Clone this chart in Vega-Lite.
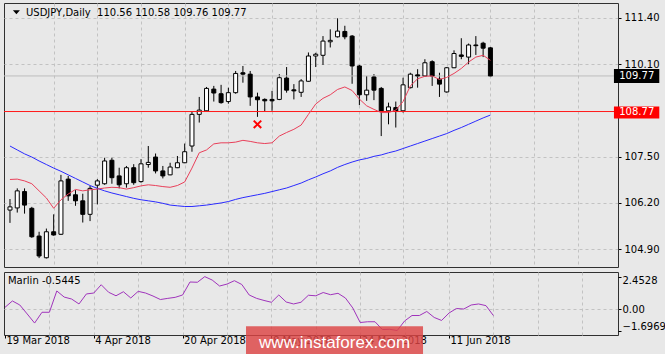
{
  "$schema": "https://vega.github.io/schema/vega-lite/v6.json",
  "background": "#e8e8e8",
  "padding": {"left": 2, "top": 2, "right": 0, "bottom": 0},
  "config": {
    "view": {"stroke": "#303030", "strokeWidth": 1},
    "font": "DejaVu Sans",
    "axis": {"labelFont": "DejaVu Sans", "labelFontSize": 10, "labelColor": "#000000", "tickColor": "#000000", "gridColor": "#c2c2c2", "gridDash": [3, 3], "gridWidth": 1, "domain": false}
  },
  "datasets": {
    "bars": [
      {"i": 0, "d": "2018-03-19", "o": 106.00, "h": 106.31, "l": 105.64, "c": 106.09, "r": 106.86, "b": 107.80, "m": 0.09},
      {"i": 1, "d": "2018-03-20", "o": 106.06, "h": 106.61, "l": 105.93, "c": 106.54, "r": 106.87, "b": 107.69, "m": 0.58},
      {"i": 2, "d": "2018-03-21", "o": 106.52, "h": 106.61, "l": 105.90, "c": 106.14, "r": 106.82, "b": 107.58, "m": 0.27},
      {"i": 3, "d": "2018-03-22", "o": 106.05, "h": 106.09, "l": 105.22, "c": 105.25, "r": 106.74, "b": 107.49, "m": -0.42},
      {"i": 4, "d": "2018-03-23", "o": 105.27, "h": 105.39, "l": 104.65, "c": 104.71, "r": 106.54, "b": 107.38, "m": -1.12},
      {"i": 5, "d": "2018-03-26", "o": 104.66, "h": 105.48, "l": 104.64, "c": 105.39, "r": 106.34, "b": 107.28, "m": -0.29},
      {"i": 6, "d": "2018-03-27", "o": 105.39, "h": 105.88, "l": 105.28, "c": 105.30, "r": 106.05, "b": 107.18, "m": -0.29},
      {"i": 7, "d": "2018-03-28", "o": 105.32, "h": 106.99, "l": 105.30, "c": 106.82, "r": 106.29, "b": 107.09, "m": 1.35},
      {"i": 8, "d": "2018-03-29", "o": 106.87, "h": 106.96, "l": 106.26, "c": 106.40, "r": 106.45, "b": 106.99, "m": 0.88},
      {"i": 9, "d": "2018-03-30", "o": 106.43, "h": 106.56, "l": 106.12, "c": 106.26, "r": 106.58, "b": 106.89, "m": 0.73},
      {"i": 10, "d": "2018-04-02", "o": 106.26, "h": 106.46, "l": 105.65, "c": 105.88, "r": 106.54, "b": 106.79, "m": 0.35},
      {"i": 11, "d": "2018-04-03", "o": 105.88, "h": 106.68, "l": 105.69, "c": 106.61, "r": 106.57, "b": 106.69, "m": 1.12},
      {"i": 12, "d": "2018-04-04", "o": 106.70, "h": 106.87, "l": 106.16, "c": 106.82, "r": 106.59, "b": 106.61, "m": 1.19},
      {"i": 13, "d": "2018-04-05", "o": 106.74, "h": 107.47, "l": 106.71, "c": 107.38, "r": 106.62, "b": 106.54, "m": 1.83},
      {"i": 14, "d": "2018-04-06", "o": 107.40, "h": 107.47, "l": 106.74, "c": 106.91, "r": 106.64, "b": 106.48, "m": 1.25},
      {"i": 15, "d": "2018-04-09", "o": 106.96, "h": 107.19, "l": 106.61, "c": 106.71, "r": 106.63, "b": 106.43, "m": 0.98},
      {"i": 16, "d": "2018-04-10", "o": 106.74, "h": 107.24, "l": 106.63, "c": 107.19, "r": 106.59, "b": 106.38, "m": 1.29},
      {"i": 17, "d": "2018-04-11", "o": 107.19, "h": 107.29, "l": 106.71, "c": 106.77, "r": 106.63, "b": 106.33, "m": 0.81},
      {"i": 18, "d": "2018-04-12", "o": 106.80, "h": 107.43, "l": 106.77, "c": 107.30, "r": 106.68, "b": 106.29, "m": 1.32},
      {"i": 19, "d": "2018-04-13", "o": 107.28, "h": 107.80, "l": 107.19, "c": 107.34, "r": 106.71, "b": 106.26, "m": 1.19},
      {"i": 20, "d": "2018-04-16", "o": 107.49, "h": 107.59, "l": 107.03, "c": 107.10, "r": 106.69, "b": 106.23, "m": 0.96},
      {"i": 21, "d": "2018-04-17", "o": 107.10, "h": 107.24, "l": 106.89, "c": 106.96, "r": 106.66, "b": 106.19, "m": 0.69},
      {"i": 22, "d": "2018-04-18", "o": 106.99, "h": 107.33, "l": 106.98, "c": 107.21, "r": 106.64, "b": 106.14, "m": 0.78},
      {"i": 23, "d": "2018-04-19", "o": 107.19, "h": 107.52, "l": 107.18, "c": 107.33, "r": 106.69, "b": 106.12, "m": 0.86},
      {"i": 24, "d": "2018-04-20", "o": 107.33, "h": 107.87, "l": 107.32, "c": 107.64, "r": 106.79, "b": 106.10, "m": 1.04},
      {"i": 25, "d": "2018-04-23", "o": 107.80, "h": 108.77, "l": 107.64, "c": 108.69, "r": 107.18, "b": 106.10, "m": 2.04},
      {"i": 26, "d": "2018-04-24", "o": 108.69, "h": 109.18, "l": 108.46, "c": 108.81, "r": 107.61, "b": 106.12, "m": 2.02},
      {"i": 27, "d": "2018-04-25", "o": 108.79, "h": 109.46, "l": 108.77, "c": 109.42, "r": 107.69, "b": 106.14, "m": 2.4528},
      {"i": 28, "d": "2018-04-26", "o": 109.40, "h": 109.49, "l": 109.05, "c": 109.29, "r": 107.86, "b": 106.17, "m": 2.19},
      {"i": 29, "d": "2018-04-27", "o": 109.27, "h": 109.52, "l": 108.99, "c": 109.02, "r": 107.89, "b": 106.20, "m": 1.73},
      {"i": 30, "d": "2018-04-30", "o": 109.05, "h": 109.44, "l": 108.99, "c": 109.30, "r": 107.89, "b": 106.24, "m": 1.88},
      {"i": 31, "d": "2018-05-01", "o": 109.30, "h": 109.91, "l": 109.27, "c": 109.84, "r": 107.91, "b": 106.30, "m": 2.14},
      {"i": 32, "d": "2018-05-02", "o": 109.86, "h": 110.05, "l": 109.58, "c": 109.82, "r": 107.96, "b": 106.35, "m": 1.85},
      {"i": 33, "d": "2018-05-03", "o": 109.82, "h": 109.91, "l": 108.93, "c": 109.18, "r": 107.93, "b": 106.39, "m": 1.04},
      {"i": 34, "d": "2018-05-04", "o": 109.18, "h": 109.30, "l": 108.62, "c": 109.10, "r": 107.89, "b": 106.43, "m": 0.78},
      {"i": 35, "d": "2018-05-07", "o": 109.11, "h": 109.14, "l": 108.77, "c": 109.07, "r": 107.87, "b": 106.47, "m": 0.62},
      {"i": 36, "d": "2018-05-08", "o": 109.11, "h": 109.35, "l": 108.79, "c": 109.07, "r": 107.89, "b": 106.52, "m": 0.48},
      {"i": 37, "d": "2018-05-09", "o": 109.11, "h": 109.82, "l": 109.09, "c": 109.72, "r": 108.08, "b": 106.57, "m": 1.04},
      {"i": 38, "d": "2018-05-10", "o": 109.71, "h": 110.02, "l": 109.30, "c": 109.37, "r": 108.18, "b": 106.62, "m": 0.50},
      {"i": 39, "d": "2018-05-11", "o": 109.38, "h": 109.54, "l": 109.11, "c": 109.35, "r": 108.27, "b": 106.69, "m": 0.35},
      {"i": 40, "d": "2018-05-14", "o": 109.31, "h": 109.68, "l": 109.18, "c": 109.63, "r": 108.39, "b": 106.76, "m": 0.48},
      {"i": 41, "d": "2018-05-15", "o": 109.62, "h": 110.43, "l": 109.61, "c": 110.33, "r": 108.69, "b": 106.85, "m": 1.02},
      {"i": 42, "d": "2018-05-16", "o": 110.33, "h": 110.42, "l": 110.02, "c": 110.38, "r": 108.98, "b": 106.93, "m": 0.98},
      {"i": 43, "d": "2018-05-17", "o": 110.35, "h": 110.89, "l": 110.08, "c": 110.75, "r": 109.14, "b": 107.02, "m": 1.23},
      {"i": 44, "d": "2018-05-18", "o": 110.73, "h": 111.08, "l": 110.57, "c": 110.77, "r": 109.24, "b": 107.10, "m": 1.06},
      {"i": 45, "d": "2018-05-21", "o": 110.87, "h": 111.39, "l": 110.85, "c": 111.03, "r": 109.39, "b": 107.20, "m": 1.17},
      {"i": 46, "d": "2018-05-22", "o": 111.02, "h": 111.18, "l": 110.80, "c": 110.87, "r": 109.46, "b": 107.28, "m": 0.81},
      {"i": 47, "d": "2018-05-23", "o": 110.89, "h": 110.92, "l": 109.55, "c": 110.05, "r": 109.36, "b": 107.35, "m": 0.04},
      {"i": 48, "d": "2018-05-24", "o": 110.05, "h": 110.08, "l": 108.95, "c": 109.24, "r": 109.12, "b": 107.41, "m": -1.08},
      {"i": 49, "d": "2018-05-25", "o": 109.24, "h": 109.77, "l": 109.07, "c": 109.37, "r": 108.93, "b": 107.45, "m": -1.02},
      {"i": 50, "d": "2018-05-28", "o": 109.74, "h": 109.82, "l": 109.09, "c": 109.37, "r": 108.83, "b": 107.51, "m": -1.02},
      {"i": 51, "d": "2018-05-29", "o": 109.42, "h": 109.46, "l": 108.08, "c": 108.77, "r": 108.74, "b": 107.55, "m": -1.62},
      {"i": 52, "d": "2018-05-30", "o": 108.79, "h": 109.02, "l": 108.41, "c": 108.90, "r": 108.74, "b": 107.61, "m": -1.60},
      {"i": 53, "d": "2018-05-31", "o": 108.88, "h": 109.05, "l": 108.32, "c": 108.77, "r": 108.81, "b": 107.66, "m": -1.6969},
      {"i": 54, "d": "2018-06-01", "o": 108.79, "h": 109.72, "l": 108.74, "c": 109.52, "r": 109.05, "b": 107.73, "m": -0.96},
      {"i": 55, "d": "2018-06-04", "o": 109.44, "h": 109.86, "l": 109.42, "c": 109.82, "r": 109.49, "b": 107.80, "m": -0.54},
      {"i": 56, "d": "2018-06-05", "o": 109.80, "h": 109.96, "l": 109.44, "c": 109.77, "r": 109.69, "b": 107.87, "m": -0.54},
      {"i": 57, "d": "2018-06-06", "o": 109.77, "h": 110.24, "l": 109.74, "c": 110.14, "r": 109.76, "b": 107.94, "m": -0.23},
      {"i": 58, "d": "2018-06-07", "o": 110.17, "h": 110.21, "l": 109.49, "c": 109.77, "r": 109.77, "b": 108.01, "m": -0.69},
      {"i": 59, "d": "2018-06-08", "o": 109.68, "h": 109.86, "l": 109.18, "c": 109.54, "r": 109.67, "b": 108.08, "m": -0.92},
      {"i": 60, "d": "2018-06-11", "o": 109.32, "h": 110.02, "l": 109.30, "c": 110.00, "r": 109.73, "b": 108.15, "m": -0.35},
      {"i": 61, "d": "2018-06-12", "o": 110.00, "h": 110.49, "l": 109.99, "c": 110.40, "r": 109.84, "b": 108.24, "m": 0.00},
      {"i": 62, "d": "2018-06-13", "o": 110.36, "h": 110.83, "l": 110.24, "c": 110.32, "r": 109.98, "b": 108.32, "m": -0.04},
      {"i": 63, "d": "2018-06-14", "o": 110.30, "h": 110.68, "l": 110.10, "c": 110.64, "r": 110.16, "b": 108.41, "m": 0.27},
      {"i": 64, "d": "2018-06-15", "o": 110.64, "h": 110.89, "l": 110.36, "c": 110.62, "r": 110.30, "b": 108.50, "m": 0.35},
      {"i": 65, "d": "2018-06-18", "o": 110.69, "h": 110.73, "l": 110.30, "c": 110.55, "r": 110.35, "b": 108.59, "m": 0.22},
      {"i": 66, "d": "2018-06-19", "o": 110.56, "h": 110.58, "l": 109.76, "c": 109.77, "r": 110.21, "b": 108.67, "m": -0.5445}
    ]
  },
  "spacing": 3,
  "resolve": {"scale": {"x": "independent", "y": "independent"}},
  "vconcat": [
    {
      "width": 614,
      "height": 264,
      "layer": [
        {
          "data": {"name": "bars"},
          "mark": {"type": "rule", "color": "#000000", "strokeWidth": 1},
          "encoding": {
            "x": {"field": "i", "type": "quantitative", "title": null, "scale": {"domain": [-0.135, 82.84], "nice": false, "zero": false},
              "axis": {"values": [6, 12, 18, 24, 30, 36, 42, 48, 54, 60, 66, 72, 78], "tickCount": 20, "labels": false, "ticks": false, "grid": true, "domain": false}},
            "y": {"field": "l", "type": "quantitative", "title": null, "scale": {"domain": [104.40, 111.82], "nice": false, "zero": false},
              "axis": {"orient": "right", "values": [104.9, 106.2, 107.5, 110.1, 111.4], "tickCount": 10, "format": ".2f", "tickSize": 3, "labelPadding": 3, "grid": true, "domain": false, "labelOverlap": false, "labelFlush": false}},
            "y2": {"field": "h"}
          }
        },
        {
          "data": {"values": [{}]},
          "mark": {"type": "rule", "color": "#bdbdbd", "strokeWidth": 1},
          "encoding": {
            "y": {"datum": 109.77, "type": "quantitative", "title": null}
          }
        },
        {
          "data": {"name": "bars"},
          "mark": {"type": "bar", "size": 4, "stroke": "#000000", "strokeWidth": 1},
          "encoding": {
            "x": {"field": "i", "type": "quantitative", "title": null},
            "y": {"field": "o", "type": "quantitative", "title": null},
            "y2": {"field": "c"},
            "fill": {"condition": {"test": "datum.c >= datum.o", "value": "#ffffff"}, "value": "#000000"}
          }
        },
        {
          "data": {"values": [{}]},
          "mark": {"type": "rule", "color": "#ff1a1a", "strokeWidth": 1},
          "encoding": {
            "y": {"datum": 108.77, "type": "quantitative", "title": null}
          }
        },
        {
          "data": {"name": "bars"},
          "mark": {"type": "line", "color": "#2b2bff", "strokeWidth": 1},
          "encoding": {
            "x": {"field": "i", "type": "quantitative", "title": null},
            "y": {"field": "b", "type": "quantitative", "title": null}
          }
        },
        {
          "data": {"name": "bars"},
          "mark": {"type": "line", "color": "#e8405a", "strokeWidth": 1},
          "encoding": {
            "x": {"field": "i", "type": "quantitative", "title": null},
            "y": {"field": "r", "type": "quantitative", "title": null}
          }
        },
        {
          "data": {"values": [{"i": 34, "p": 108.41}]},
          "mark": {"type": "point", "shape": "M-1,-1L1,1M-1,1L1,-1", "size": 56, "filled": false, "stroke": "#ff0000", "strokeWidth": 2, "opacity": 1},
          "encoding": {
            "x": {"field": "i", "type": "quantitative", "title": null},
            "y": {"field": "p", "type": "quantitative", "title": null}
          }
        },
        {
          "data": {"values": [{"i": 0.88, "p": 111.56}]},
          "mark": {"type": "point", "shape": "M-1,-0.6L1,-0.6L0,0.6Z", "size": 49, "filled": true, "color": "#000000", "opacity": 1},
          "encoding": {
            "x": {"field": "i", "type": "quantitative", "title": null},
            "y": {"field": "p", "type": "quantitative", "title": null}
          }
        },
        {
          "data": {"values": [{"i": 2.2, "p": 111.55, "t": "USDJPY,Daily\u00a0\u00a0110.56 110.58 109.76 109.77"}]},
          "mark": {"type": "text", "align": "left", "baseline": "middle", "font": "DejaVu Sans", "fontSize": 10, "color": "#000000"},
          "encoding": {
            "x": {"field": "i", "type": "quantitative", "title": null},
            "y": {"field": "p", "type": "quantitative", "title": null},
            "text": {"field": "t"}
          }
        },
        {
          "data": {"values": [{"x1": 82.97, "x2": 89.2, "lo": 109.573, "hi": 109.967, "v": 109.77}, {"x1": 82.97, "x2": 89.2, "lo": 108.576, "hi": 108.913, "v": 108.77}]},
          "mark": {"type": "rect", "clip": false},
          "encoding": {
            "x": {"field": "x1", "type": "quantitative", "title": null},
            "x2": {"field": "x2"},
            "y": {"field": "lo", "type": "quantitative", "title": null},
            "y2": {"field": "hi"},
            "fill": {"condition": {"test": "datum.v > 109", "value": "#000000"}, "value": "#ff0000"}
          }
        },
        {
          "data": {"values": [{"x1": 83.7, "v": 109.77, "t": "109.77"}, {"x1": 83.7, "v": 108.77, "t": "108.77"}]},
          "mark": {"type": "text", "align": "left", "baseline": "middle", "font": "DejaVu Sans", "fontSize": 10, "color": "#ffffff", "clip": false},
          "encoding": {
            "x": {"field": "x1", "type": "quantitative", "title": null},
            "y": {"field": "v", "type": "quantitative", "title": null},
            "text": {"field": "t"}
          }
        }
      ]
    },
    {
      "width": 614,
      "height": 63,
      "layer": [
        {
          "data": {"name": "bars"},
          "mark": {"type": "line", "color": "#a034bc", "strokeWidth": 1},
          "encoding": {
            "x": {"field": "i", "type": "quantitative", "title": null, "scale": {"domain": [-0.135, 82.84], "nice": false, "zero": false},
              "axis": {
                "values": [0, 6, 12, 18, 24, 30, 36, 42, 48, 54, 60, 66, 72, 78],
                "tickCount": 20,
                "labelExpr": "datum.value == 0 ? '19 Mar 2018' : datum.value == 12 ? '4 Apr 2018' : datum.value == 24 ? '20 Apr 2018' : datum.value == 36 ? '8 May 2018' : datum.value == 48 ? '24 May 2018' : datum.value == 60 ? '11 Jun 2018' : ''",
                "grid": true,
                "gridOpacity": {"condition": {"test": "datum.value == 0", "value": 0}, "value": 1},
                "tickOpacity": {"condition": {"test": "datum.value % 12 == 0 && datum.value <= 60", "value": 1}, "value": 0},
                "tickSize": 3,
                "labelAlign": "left",
                "labelPadding": -3,
                "labelOffset": 1,
                "labelFlush": false,
                "labelOverlap": false,
                "labelBound": false,
                "domain": false
              }},
            "y": {"field": "m", "type": "quantitative", "title": null, "scale": {"domain": [-2.04, 2.81], "nice": false, "zero": false},
              "axis": {
                "orient": "right",
                "values": [-1.6969, 0, 2.4528],
                "tickCount": 10,
                "labelExpr": "abs(datum.value) < 0.001 ? '0.00' : format(datum.value, '.4f')",
                "grid": true,
                "gridOpacity": {"condition": {"test": "abs(datum.value) < 0.001", "value": 1}, "value": 0},
                "tickSize": 3,
                "labelPadding": 1,
                "labelOverlap": false,
                "labelFlush": false,
                "labelBound": false,
                "labelOffset": {"condition": [{"test": "datum.value > 1", "value": 4}, {"test": "datum.value < -1", "value": -4}], "value": 1},
                "domain": false
              }}
          }
        },
        {
          "data": {"values": [{"i": 0.4, "v": 2.1, "t": "Marlin -0.5445"}]},
          "mark": {"type": "text", "align": "left", "baseline": "middle", "font": "DejaVu Sans", "fontSize": 10, "color": "#000000"},
          "encoding": {
            "x": {"field": "i", "type": "quantitative", "title": null},
            "y": {"field": "v", "type": "quantitative", "title": null},
            "text": {"field": "t"}
          }
        },
        {
          "data": {"values": [{"x1": 32.57, "x2": 56.49, "lo": -3.73, "hi": -1.37}]},
          "mark": {"type": "rect", "clip": false, "fill": "#dd4444", "opacity": 0.82},
          "encoding": {
            "x": {"field": "x1", "type": "quantitative", "title": null},
            "x2": {"field": "x2"},
            "y": {"field": "lo", "type": "quantitative", "title": null},
            "y2": {"field": "hi"}
          }
        },
        {
          "data": {"values": [{"i": 44.55, "v": -2.62, "t": "www.instaforex.com"}]},
          "mark": {"type": "text", "align": "center", "baseline": "middle", "font": "Liberation Sans", "fontSize": 17, "color": "#ffffff", "clip": false},
          "encoding": {
            "x": {"field": "i", "type": "quantitative", "title": null},
            "y": {"field": "v", "type": "quantitative", "title": null},
            "text": {"field": "t"}
          }
        }
      ]
    }
  ]
}
